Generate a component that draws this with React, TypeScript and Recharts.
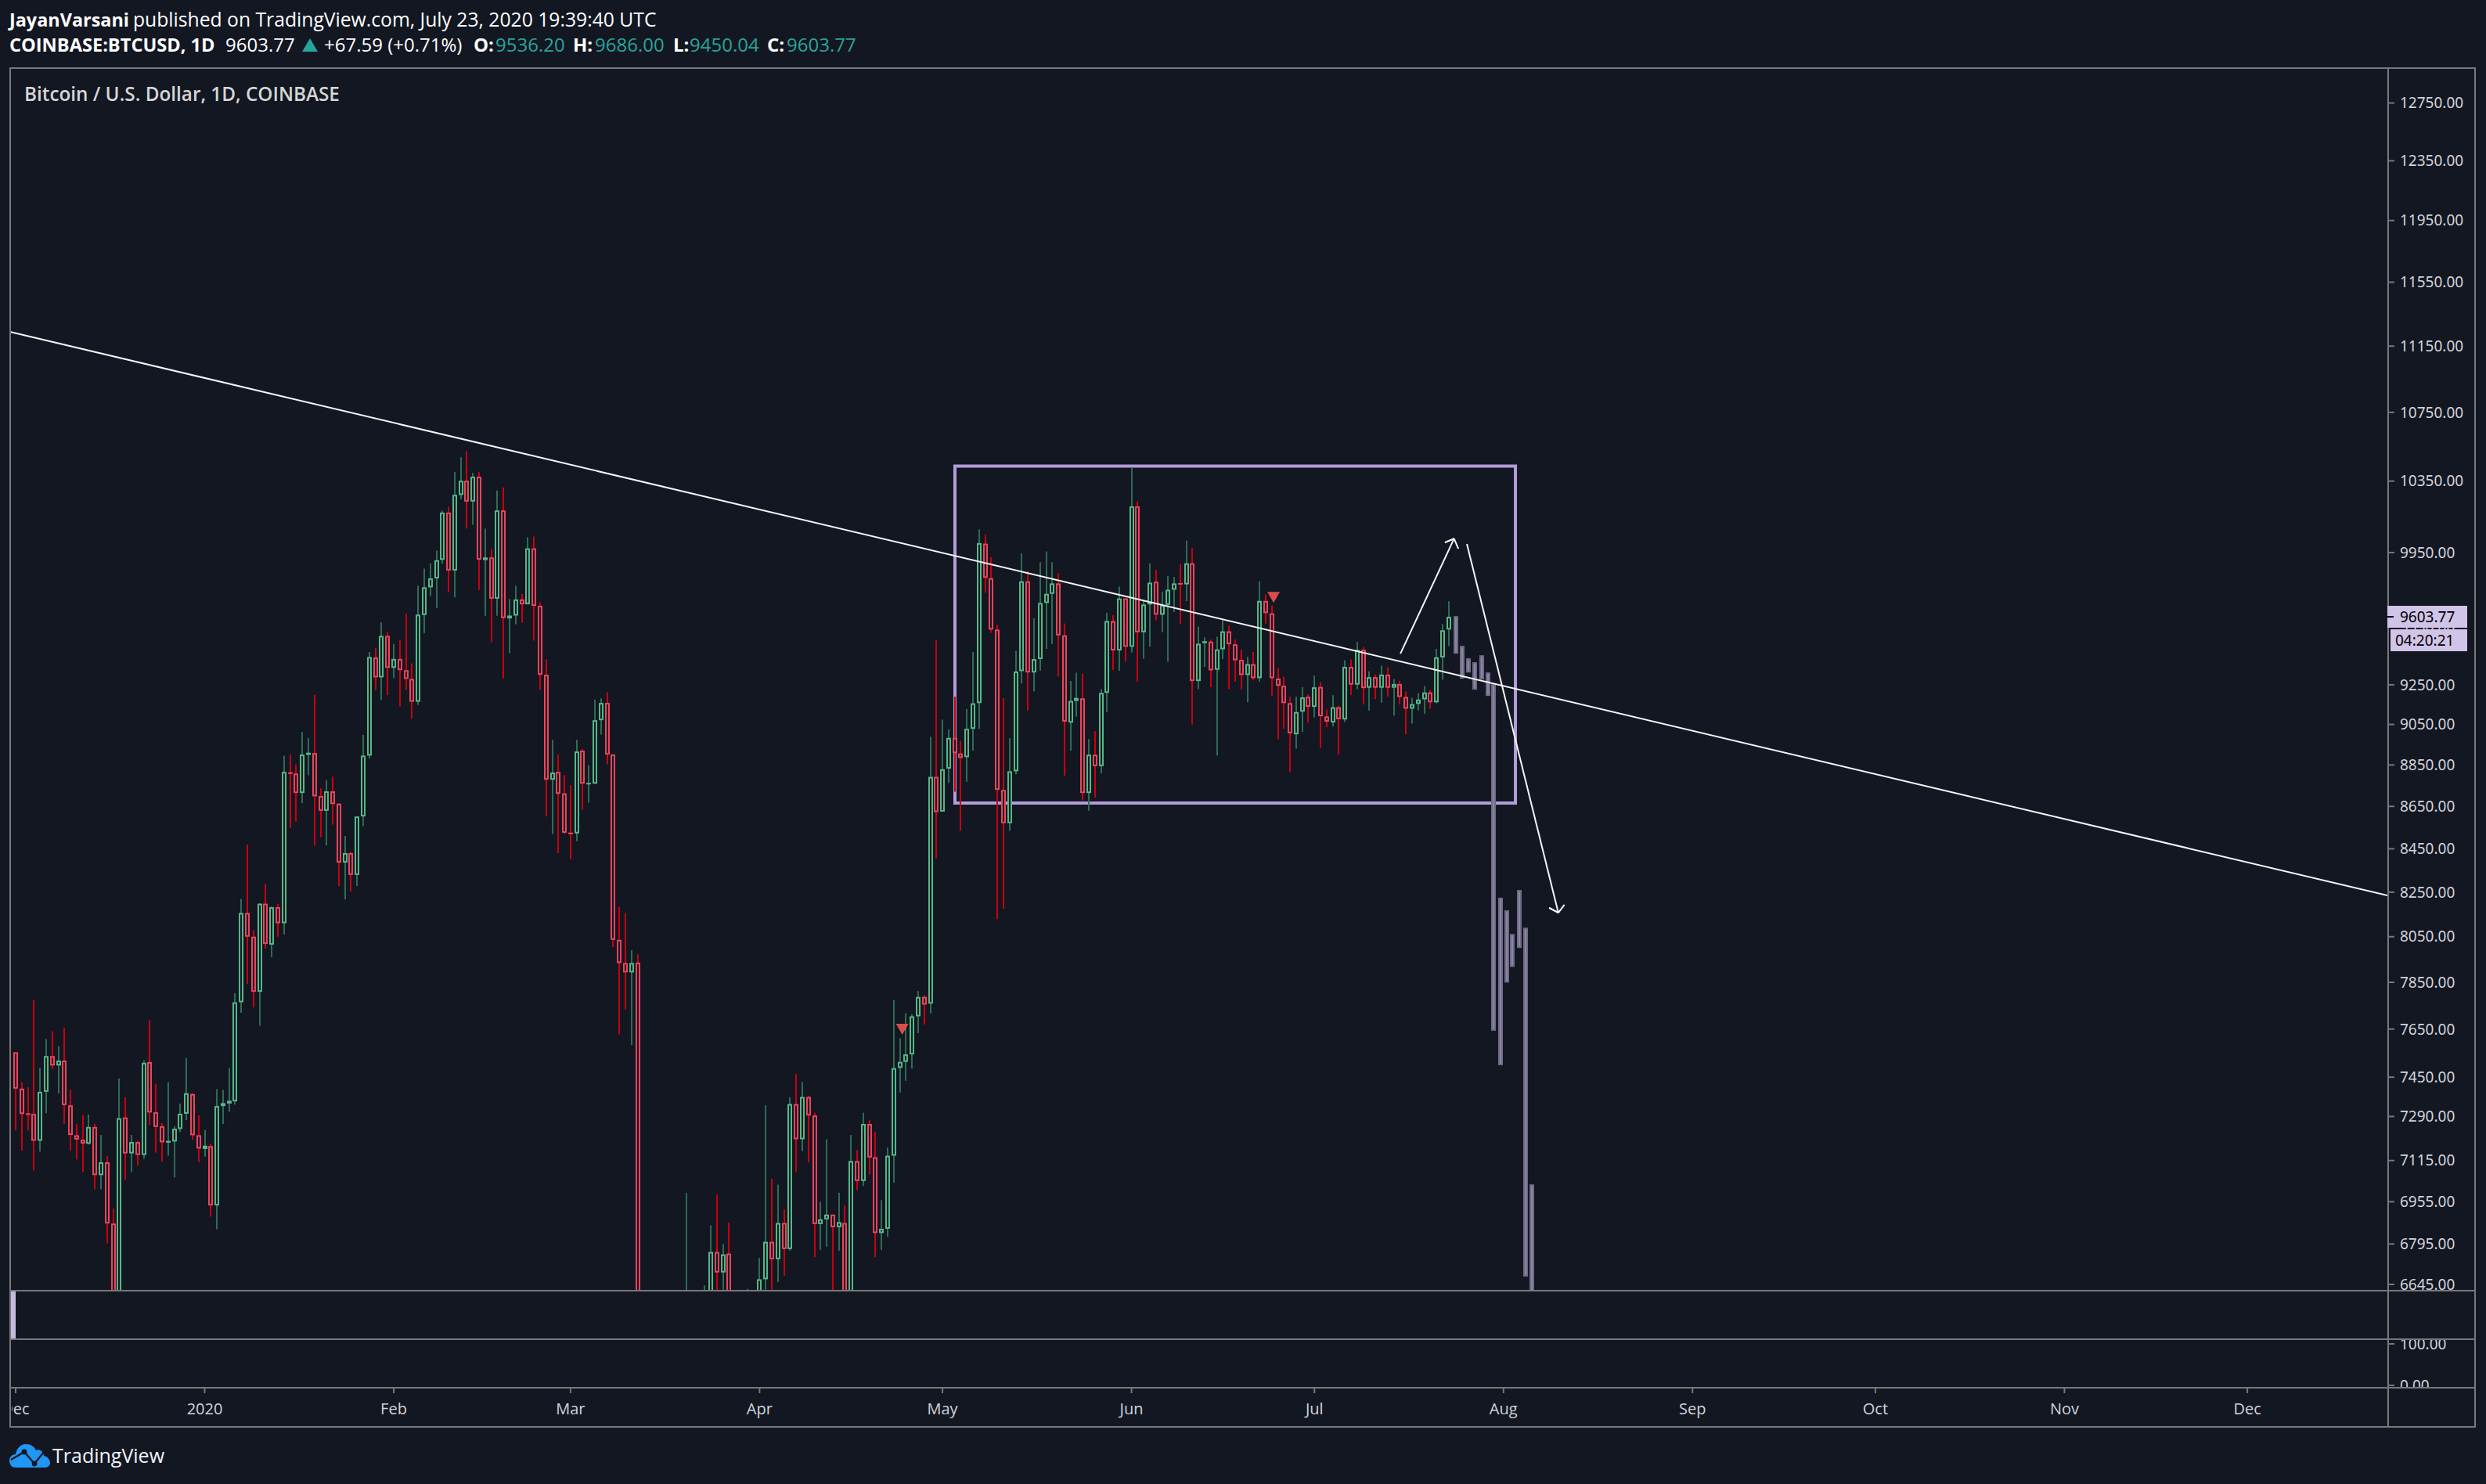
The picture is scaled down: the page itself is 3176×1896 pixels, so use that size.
// App.tsx
// BTCUSD daily candles with hand drawn trend line, box and arrows (TradingView look)

import {
  Bar,
  ComposedChart,
  ReferenceArea,
  ReferenceDot,
  ReferenceLine,
  XAxis,
  YAxis,
} from "recharts";

const BG = "#131722";
const FRAME = "#787878";
const TICK = "#D1D4DC";
const LAVENDER = "#D1C4E9";
const BOX = "#B39DDB";
const FONT = '"Open Sans", sans-serif';
const AXIS_FONT = '"Noto Sans", sans-serif';

// day 0 is 1 Dec 2019
const opens = [
  7553, 7403, 7301, 7300, 7193, 7390, 7537, 7498, 7518, 7335, 7215, 7197, 7181, 7248, 7058, 7108, 6872, 6610, 7286, 7143,
  7188, 7137, 7512, 7307, 7251, 7187, 7190, 7240, 7301, 7381, 7215, 7162, 7172, 6941, 7332, 7344, 7351, 7764, 8156, 8050,
  7809, 8198, 8015, 8182, 8110, 8812, 8808, 8714, 8901, 8908, 8700, 8629, 8722, 8663, 8386, 8430, 8329, 8602, 8896, 9390,
  9288, 9503, 9337, 9383, 9325, 9280, 9164, 9613, 9761, 9809, 9910, 10172, 9852, 10271, 10352, 10234, 10375, 9911, 9923, 9700,
  10184, 9595, 9610, 9696, 9670, 9973, 9662, 9301, 8778, 8816, 8712, 8524, 8522, 8920, 8760, 8759, 9071, 9158, 8901, 8036,
  7934, 7893, 7936, 4800, 5565, 5165, 5350, 5020, 5225, 5380, 6180, 6210, 6185, 5810, 6490, 6765, 6689, 6759, 6360, 6240,
  5880, 6400, 6440, 6664, 6803, 6738, 6874, 6776, 7340, 7199, 7369, 7294, 6870, 6888, 6906, 6858, 6874, 6540, 7113, 7035,
  7260, 7128, 6836, 6852, 7134, 7488, 7513, 7544, 7704, 7787, 7758, 8792, 8625, 8832, 8983, 8906, 8888, 9028, 9157, 9999,
  9810, 9536, 8729, 8570, 8819, 9320, 9793, 9313, 9382, 9677, 9726, 9782, 9506, 9059, 9168, 9181, 8714, 8900, 8844, 9209,
  9581, 9427, 9701, 9446, 10207, 9522, 9669, 9791, 9615, 9667, 9748, 9782, 9777, 9891, 9269, 9467, 9473, 9327, 9433, 9527,
  9459, 9378, 9300, 9356, 9284, 9688, 9622, 9282, 9245, 9157, 9001, 9114, 9189, 9138, 9239, 9090, 9060, 9136, 9075, 9342,
  9251, 9430, 9235, 9289, 9235, 9302, 9235, 9254, 9188, 9129, 9153, 9176, 9211, 9161, 9391, 9536.2,
];

const highs = [
  7553, 7429, 7409, 7773, 7488, 7608, 7641, 7578, 7656, 7398, 7261, 7295, 7298, 7261, 7216, 7132, 6929, 7445, 7368, 7216,
  7192, 7519, 7687, 7422, 7264, 7429, 7251, 7342, 7529, 7384, 7295, 7236, 7182, 7401, 7398, 7487, 7803, 8219, 8470, 8080,
  8200, 8288, 8185, 8197, 8895, 8901, 8852, 9012, 8983, 9199, 8737, 8776, 8793, 8665, 8510, 8437, 8602, 8998, 9419, 9440,
  9574, 9524, 9461, 9480, 9620, 9360, 9770, 9862, 9890, 9961, 10183, 10204, 10402, 10487, 10522, 10397, 10402, 10082, 9970, 10297,
  10315, 9698, 9770, 9725, 10034, 10039, 9680, 9381, 8974, 8901, 8800, 8752, 8974, 8929, 8849, 9175, 9181, 9212, 8901, 8183,
  8156, 7990, 7972, 5950, 5665, 5950, 5360, 5550, 5450, 6300, 6989, 6450, 6400, 6641, 6865, 6983, 6795, 6875, 6450, 6270,
  6629, 6520, 6743, 7335, 7044, 7021, 6926, 7368, 7462, 7430, 7374, 7305, 6955, 7199, 6906, 6990, 6941, 7216, 7156, 7305,
  7275, 7229, 6961, 7166, 7774, 7612, 7717, 7714, 7812, 7795, 8989, 9481, 9074, 9025, 9190, 8969, 9127, 9419, 10078, 10048,
  9923, 9562, 9182, 8982, 9424, 9945, 9849, 9595, 9897, 9956, 9897, 9837, 9568, 9269, 9312, 9307, 8977, 9016, 9228, 9625,
  9612, 9765, 9704, 10426, 10235, 9688, 9890, 9855, 9738, 9822, 9817, 9886, 10016, 9975, 9552, 9495, 9484, 9498, 9587, 9557,
  9484, 9432, 9394, 9419, 9793, 9723, 9664, 9336, 9292, 9190, 9190, 9238, 9202, 9297, 9263, 9125, 9197, 9144, 9376, 9380,
  9472, 9445, 9319, 9303, 9348, 9340, 9279, 9271, 9216, 9184, 9208, 9244, 9224, 9435, 9565, 9686,
];

const lows = [
  7234, 7153, 7234, 7076, 7150, 7303, 7482, 7383, 7260, 7153, 7119, 7070, 7178, 7003, 7003, 6797, 6560, 6430, 7040, 7070,
  7095, 7122, 7256, 7146, 7111, 7134, 7049, 7228, 7275, 7197, 7108, 7130, 6898, 6850, 7260, 7309, 7338, 7719, 7843, 7742,
  7664, 7997, 7960, 8050, 8060, 8548, 8577, 8665, 8800, 8464, 8504, 8465, 8563, 8278, 8217, 8253, 8278, 8556, 8881, 9223,
  9172, 9197, 9283, 9141, 9223, 9079, 9148, 9518, 9714, 9650, 9889, 9737, 9707, 10247, 10082, 10104, 9747, 9609, 9470, 9609,
  9282, 9413, 9564, 9572, 9670, 9478, 9224, 8602, 8519, 8430, 8519, 8401, 8486, 8634, 8668, 8759, 9000, 8853, 8004, 7628,
  7734, 7583, 4442, 3858, 5060, 5100, 4450, 4950, 5000, 5250, 5670, 5860, 5790, 5690, 6380, 6500, 6530, 6290, 6030, 5880,
  5860, 6330, 6390, 6550, 6580, 6654, 6677, 6770, 7071, 7152, 7108, 6746, 6773, 6785, 6560, 6770, 6480, 6500, 6999, 7016,
  7060, 6746, 6773, 6822, 7029, 7387, 7435, 7485, 7633, 7669, 7716, 8405, 8625, 8763, 8720, 8534, 8768, 8920, 9028, 9731,
  9519, 8128, 8175, 8534, 8804, 9256, 9120, 9216, 9322, 9435, 9460, 9292, 8798, 8920, 9089, 8678, 8629, 8692, 8809, 9112,
  9326, 9322, 9369, 9416, 9266, 9384, 9447, 9584, 9522, 9369, 9629, 9565, 9687, 9050, 9228, 9342, 9238, 8896, 9382, 9228,
  9266, 9228, 9161, 9272, 9266, 9568, 9194, 8976, 9028, 8815, 8930, 9012, 9059, 9085, 8934, 9037, 9040, 8900, 9062, 9198,
  9228, 9150, 9119, 9177, 9159, 9190, 9094, 9150, 9001, 9054, 9120, 9104, 9128, 9156, 9276, 9450.04,
];

const closes = [
  7403, 7300, 7300, 7193, 7390, 7537, 7498, 7518, 7336, 7216, 7198, 7182, 7248, 7058, 7108, 6872, 6610, 7283, 7143, 7188,
  7137, 7509, 7306, 7248, 7187, 7191, 7241, 7301, 7384, 7215, 7162, 7172, 6941, 7332, 7344, 7352, 7764, 8156, 8050, 7809,
  8198, 8018, 8182, 8110, 8816, 8810, 8714, 8901, 8908, 8698, 8629, 8722, 8661, 8386, 8430, 8329, 8602, 8896, 9393, 9288,
  9503, 9337, 9383, 9325, 9280, 9164, 9615, 9761, 9809, 9908, 10172, 9852, 10272, 10352, 10234, 10375, 9911, 9921, 9700, 10184,
  9597, 9610, 9696, 9670, 9973, 9662, 9301, 8778, 8813, 8710, 8525, 8520, 8916, 8759, 8761, 9071, 9158, 8901, 8036, 7934,
  7893, 7934, 4800, 5565, 5165, 5350, 5020, 5225, 5380, 6180, 6210, 6185, 5810, 6490, 6765, 6689, 6756, 6360, 6240, 5880,
  6400, 6420, 6664, 6803, 6738, 6874, 6776, 7340, 7199, 7369, 7294, 6870, 6888, 6906, 6858, 6877, 6540, 7113, 7035, 7260,
  7127, 6836, 6852, 7134, 7487, 7513, 7544, 7704, 7787, 7754, 8792, 8623, 8829, 8983, 8908, 8884, 9028, 9156, 10002, 9812,
  9536, 8729, 8570, 8819, 9318, 9793, 9313, 9382, 9677, 9726, 9782, 9506, 9064, 9168, 9183, 8714, 8900, 8844, 9209, 9581,
  9427, 9701, 9446, 10207, 9522, 9669, 9786, 9615, 9665, 9748, 9782, 9779, 9891, 9269, 9462, 9473, 9324, 9432, 9527, 9459,
  9376, 9300, 9356, 9284, 9688, 9623, 9284, 9245, 9157, 9006, 9112, 9186, 9138, 9237, 9091, 9064, 9136, 9076, 9342, 9251,
  9430, 9233, 9289, 9235, 9302, 9235, 9254, 9188, 9129, 9152, 9175, 9211, 9161, 9391, 9532, 9603.77,
];

// the published "bars pattern" projection, 24 Jul onwards; it does not sit exactly on whole days
const projectedDays = [236.2, 237.2, 238.3, 239.3, 240.4, 241.4, 242.4, 243.5, 244.5, 245.5, 246.6, 247.6, 248.6];
const projectedHighs = [9607, 9451, 9386, 9366, 9402, 9313, 9253, 8225, 8168, 8062, 8260, 8090, 7022];
const projectedLows = [9410, 9281, 9313, 9225, 9277, 9193, 7643, 7499, 7849, 7917, 8000, 6674, 6500];

const priceTicks = [
  6645, 6795, 6955, 7115, 7290, 7450, 7650, 7850, 8050, 8250, 8450, 8650, 8850, 9050, 9250, 9550, 9950, 10350, 10750,
  11150, 11550, 11950, 12350, 12750,
];
const oscTicks = [0, 100];
const monthTicks = [0, 31, 62, 91, 122, 152, 183, 213, 244, 275, 305, 336, 366];
const monthLabels = ["Dec", "2020", "Feb", "Mar", "Apr", "May", "Jun", "Jul", "Aug", "Sep", "Oct", "Nov", "Dec"];

const DAY_DOMAIN = [-0.9, 388.96];
const PRICE_DOMAIN = [6625, 12998];

// drawings, in [day, price]
const trendLine = [[-0.9, 11238], [388.96, 8235]];
const upArrow = [[227.1, 9410], [235.9, 10027], [234.4, 10005], [235.9, 10027], [236.6, 9971]];
const downArrow = [[238.0, 9997], [253.0, 8157], [251.5, 8179], [253.0, 8157], [254.0, 8193]];
const boxDays = [154.04, 245.96];
const boxPrices = [8666, 10436];
const markers = [[145.4, 7649], [206.3, 9707]];

const rows = [
  ...opens.map((o, i) => ({
    day: i,
    up: closes[i] >= o,
    wick: [lows[i], highs[i]],
    body: [Math.min(o, closes[i]), Math.max(o, closes[i])],
    projected: null as number[] | null,
  })),
  ...projectedHighs.map((h, i) => ({
    day: projectedDays[i],
    up: false,
    wick: null,
    body: null,
    projected: [projectedLows[i], h],
  })),
];

function segments(points: number[][]) {
  return points.slice(1).map((p, i) => [points[i], p]);
}

// the bar group comes out about half a pixel left of the day, so nudge it back
function centerOf(x: number, width: number) {
  return Math.round(x + width / 2 + 0.4);
}

function WickShape(props: any) {
  const { x, y, width, height, payload } = props;
  if (!payload || !payload.wick) return null;
  const cx = centerOf(x, width);
  return <rect x={cx - 1} y={y} width={2} height={height} fill={payload.up ? "#2F6B55" : "#C8000F"} />;
}

function BodyShape(props: any) {
  const { x, y, width, height, payload } = props;
  if (!payload || !payload.body) return null;
  const cx = centerOf(x, width);
  const stroke = payload.up ? "#53B987" : "#F0435C";
  if (height < 3.5) return <rect x={cx - 3} y={y - 0.5} width={6} height={Math.max(height + 1, 2)} fill={stroke} />;
  return (
    <rect x={cx - 2} y={y + 1} width={4} height={height - 2} fill={BG} stroke={stroke} strokeWidth={2} />
  );
}

function ProjectedShape(props: any) {
  const { x, y, width, height, payload } = props;
  if (!payload || !payload.projected) return null;
  const cx = centerOf(x, width);
  return (
    <rect x={cx - 2} y={y + 1} width={4} height={height - 2} fill="#8A85A0" stroke="#6F6A85" strokeWidth={2} />
  );
}

function MarkerShape(props: any) {
  const { cx, cy } = props;
  return <path d={`M${cx - 8} ${cy - 7}L${cx + 8} ${cy - 7}L${cx} ${cy + 7}Z`} fill="#EF5350" opacity={0.9} />;
}

function Txt({ x, y, size = 24, color = "#FFFFFF", weight = 400, children, font = FONT }: any) {
  return (
    <span
      style={{
        position: "absolute",
        left: x,
        top: y,
        fontSize: size,
        lineHeight: "32px",
        color,
        fontWeight: weight,
        fontFamily: font,
        whiteSpace: "nowrap",
      }}
    >
      {children}
    </span>
  );
}

function Block({ x, y, w, h, color = FRAME, children }: any) {
  return <div style={{ position: "absolute", left: x, top: y, width: w, height: h, background: color }}>{children}</div>;
}

export default function App() {
  return (
    <div style={{ position: "absolute", left: 0, top: 0, width: 3176, height: 1896, background: BG, overflow: "hidden" }}>
      <div style={{ position: "absolute", left: 0, top: 0 }}>
        <ComposedChart
          width={3176}
          height={1649}
          data={rows}
          margin={{ top: 87, right: 14, bottom: 1, left: 13 }}
          barSize={7}
          barGap={-7}
        >
          <XAxis dataKey="day" type="number" domain={DAY_DOMAIN} allowDataOverflow hide />
          <YAxis
            orientation="right"
            width={112}
            type="number"
            scale="log"
            domain={PRICE_DOMAIN}
            allowDataOverflow
            ticks={priceTicks}
            interval={0}
            axisLine={false}
            tickSize={9}
            tickMargin={7}
            tickLine={{ stroke: FRAME, strokeWidth: 2 }}
            tick={{ fill: TICK, fontSize: 19, fontFamily: AXIS_FONT }}
            tickFormatter={(v: number) => v.toFixed(2)}
          />
          <Bar dataKey="wick" shape={WickShape} isAnimationActive={false} />
          <Bar dataKey="body" shape={BodyShape} isAnimationActive={false} />
          <Bar dataKey="projected" shape={ProjectedShape} isAnimationActive={false} />
          <ReferenceArea
            x1={boxDays[0]}
            x2={boxDays[1]}
            y1={boxPrices[0]}
            y2={boxPrices[1]}
            fill="none"
            stroke={BOX}
            strokeWidth={4}
            ifOverflow="visible"
          />
          {[trendLine, ...segments(upArrow), ...segments(downArrow)].map((seg, i) => (
            <ReferenceLine
              key={i}
              segment={[
                { x: seg[0][0], y: seg[0][1] },
                { x: seg[1][0], y: seg[1][1] },
              ]}
              stroke="#F5F5F5"
              strokeWidth={2}
              ifOverflow="visible"
            />
          ))}
          {markers.map((m, i) => (
            <ReferenceDot key={i} x={m[0]} y={m[1]} shape={MarkerShape} ifOverflow="visible" />
          ))}
        </ComposedChart>
      </div>

      <div style={{ position: "absolute", left: 0, top: 1711 }}>
        <ComposedChart width={3176} height={113} data={rows} margin={{ top: 0, right: 14, bottom: 0, left: 13 }}>
          <XAxis
            dataKey="day"
            type="number"
            domain={DAY_DOMAIN}
            allowDataOverflow
            ticks={monthTicks}
            interval={0}
            height={51}
            axisLine={false}
            tickSize={7}
            tickMargin={13}
            tickLine={{ stroke: FRAME, strokeWidth: 2 }}
            tick={{ fill: TICK, fontSize: 20, fontFamily: FONT }}
            tickFormatter={(_: number, i: number) => monthLabels[i]}
          />
          <YAxis
            orientation="right"
            width={112}
            type="number"
            domain={[-5.7, 111.3]}
            allowDataOverflow
            ticks={oscTicks}
            interval={0}
            axisLine={false}
            tickSize={9}
            tickMargin={7}
            tickLine={{ stroke: FRAME, strokeWidth: 2 }}
            tick={{ fill: TICK, fontSize: 19, fontFamily: AXIS_FONT }}
            tickFormatter={(v: number) => v.toFixed(2)}
          />
        </ComposedChart>
      </div>

      {/* covers for what the panes clip */}
      <Block x={3052} y={1774} w={109} h={48} color={BG} />
      <Block x={0} y={1774} w={15} h={48} color={BG} />
      <Block x={14} y={1650} w={6} h={60} color="#C4BADC" />

      {/* pane frame */}
      <Block x={12} y={86} w={3151} h={2} />
      <Block x={12} y={1648} w={3151} h={2} />
      <Block x={12} y={1710} w={3151} h={2} />
      <Block x={12} y={1772} w={3151} h={2} />
      <Block x={12} y={1822} w={3151} h={2} />
      <Block x={12} y={86} w={2} h={1738} />
      <Block x={3050} y={86} w={2} h={1738} />
      <Block x={3161} y={86} w={2} h={1738} />

      {/* last price + countdown */}
      <Block x={3050} y={774} w={102} h={28} color={LAVENDER}>
        <div style={{ position: "absolute", left: 0, top: 13, width: 8, height: 2, background: "#000" }} />
        <span style={{ position: "absolute", left: 16, top: 0, font: `19px/28px ${AXIS_FONT}`, color: "#000" }}>9603.77</span>
      </Block>
      <Block x={3054} y={804} w={98} h={28} color={LAVENDER}>
        <span style={{ position: "absolute", left: 6, top: 0, font: `19px/28px ${AXIS_FONT}`, color: "#000" }}>04:20:21</span>
      </Block>

      {/* header */}
      <Txt x={12} y={9} size={23.4} weight={700}>JayanVarsani</Txt>
      <Txt x={170} y={9} size={24.7}>published on TradingView.com, July 23, 2020 19:39:40 UTC</Txt>
      <Txt x={12} y={41} size={23.6} weight={700}>COINBASE:BTCUSD, 1D</Txt>
      <Txt x={288} y={41}>9603.77</Txt>
      <div
        style={{
          position: "absolute",
          left: 386,
          top: 49,
          width: 0,
          height: 0,
          borderLeft: "10px solid transparent",
          borderRight: "10px solid transparent",
          borderBottom: "17px solid #26A69A",
        }}
      />
      <Txt x={414} y={41}>+67.59 (+0.71%)</Txt>
      <Txt x={605} y={41} weight={700}>O:</Txt>
      <Txt x={633} y={41} color="#26A69A">9536.20</Txt>
      <Txt x={732} y={41} weight={700}>H:</Txt>
      <Txt x={760} y={41} color="#26A69A">9686.00</Txt>
      <Txt x={860} y={41} weight={700}>L:</Txt>
      <Txt x={881} y={41} color="#26A69A">9450.04</Txt>
      <Txt x={980} y={41} weight={700}>C:</Txt>
      <Txt x={1005} y={41} color="#26A69A">9603.77</Txt>
      <Txt x={31} y={104} size={24.3} color="#D6D6D6" weight={600}>Bitcoin / U.S. Dollar, 1D, COINBASE</Txt>

      {/* logo */}
      <svg style={{ position: "absolute", left: 12, top: 1845 }} width={52} height={30} viewBox="0 0 52 30">
        <path
          d="M8 30C2 30 0 25 0 21C0 16 4 13 8 13C9 6 14 0 21 0C27 0 32 3 34 8C36 7 39 7 41 9C43 11 44 13 44 15C49 16 52 20 52 24C52 28 48 30 45 30Z"
          fill="#2196F3"
        />
        <path d="M2 20L19 10L32 25L45 9" fill="none" stroke={BG} strokeWidth={2.2} />
        <circle cx={19} cy={10} r={3.4} fill={BG} />
        <circle cx={32} cy={25} r={3.4} fill={BG} />
      </svg>
      <Txt x={67} y={1843} size={25} color="#F0F3FA">TradingView</Txt>
    </div>
  );
}
